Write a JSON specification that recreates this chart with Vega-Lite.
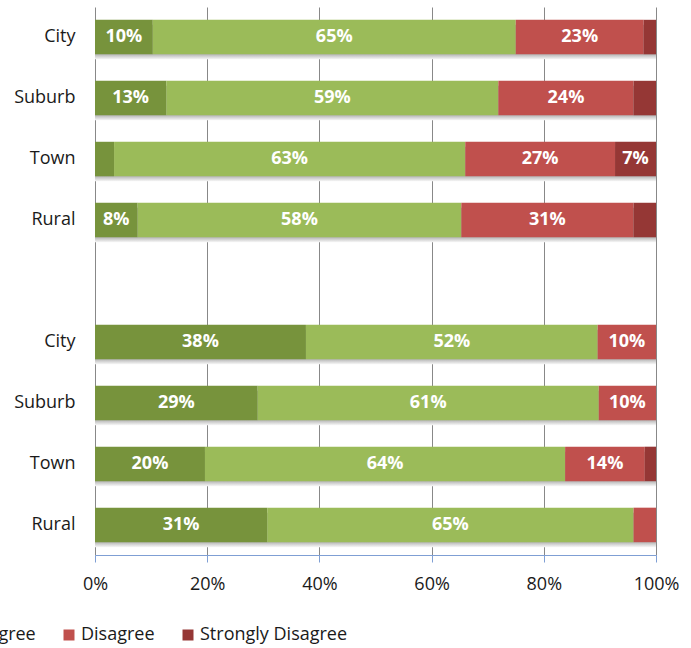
{
  "$schema": "https://vega.github.io/schema/vega-lite/v6.json",
  "width": 561,
  "height": 548,
  "autosize": {"type": "none"},
  "padding": {"left": 95, "top": 7, "right": 35, "bottom": 93},
  "background": "white",
  "config": {
    "view": {"stroke": null},
    "font": "Open Sans",
    "axis": {"labelFont": "Open Sans", "labelColor": "#1a1a1a", "titleFont": "Open Sans"},
    "legend": {"labelFont": "Open Sans"}
  },
  "data": {
    "values": [
      {"row": "a|City", "resp": "Strongly Agree", "k": 1, "p": 0.103},
      {"row": "a|City", "resp": "Agree", "k": 2, "p": 0.647},
      {"row": "a|City", "resp": "Disagree", "k": 3, "p": 0.228},
      {"row": "a|City", "resp": "Strongly Disagree", "k": 4, "p": 0.022},
      {"row": "b|Suburb", "resp": "Strongly Agree", "k": 1, "p": 0.127},
      {"row": "b|Suburb", "resp": "Agree", "k": 2, "p": 0.592},
      {"row": "b|Suburb", "resp": "Disagree", "k": 3, "p": 0.241},
      {"row": "b|Suburb", "resp": "Strongly Disagree", "k": 4, "p": 0.040},
      {"row": "c|Town", "resp": "Strongly Agree", "k": 1, "p": 0.034},
      {"row": "c|Town", "resp": "Agree", "k": 2, "p": 0.626},
      {"row": "c|Town", "resp": "Disagree", "k": 3, "p": 0.267},
      {"row": "c|Town", "resp": "Strongly Disagree", "k": 4, "p": 0.073},
      {"row": "d|Rural", "resp": "Strongly Agree", "k": 1, "p": 0.076},
      {"row": "d|Rural", "resp": "Agree", "k": 2, "p": 0.577},
      {"row": "d|Rural", "resp": "Disagree", "k": 3, "p": 0.307},
      {"row": "d|Rural", "resp": "Strongly Disagree", "k": 4, "p": 0.040},
      {"row": "f|City", "resp": "Strongly Agree", "k": 1, "p": 0.376},
      {"row": "f|City", "resp": "Agree", "k": 2, "p": 0.520},
      {"row": "f|City", "resp": "Disagree", "k": 3, "p": 0.104},
      {"row": "f|City", "resp": "Strongly Disagree", "k": 4, "p": 0.0},
      {"row": "g|Suburb", "resp": "Strongly Agree", "k": 1, "p": 0.290},
      {"row": "g|Suburb", "resp": "Agree", "k": 2, "p": 0.608},
      {"row": "g|Suburb", "resp": "Disagree", "k": 3, "p": 0.102},
      {"row": "g|Suburb", "resp": "Strongly Disagree", "k": 4, "p": 0.0},
      {"row": "h|Town", "resp": "Strongly Agree", "k": 1, "p": 0.196},
      {"row": "h|Town", "resp": "Agree", "k": 2, "p": 0.642},
      {"row": "h|Town", "resp": "Disagree", "k": 3, "p": 0.142},
      {"row": "h|Town", "resp": "Strongly Disagree", "k": 4, "p": 0.020},
      {"row": "i|Rural", "resp": "Strongly Agree", "k": 1, "p": 0.307},
      {"row": "i|Rural", "resp": "Agree", "k": 2, "p": 0.653},
      {"row": "i|Rural", "resp": "Disagree", "k": 3, "p": 0.040},
      {"row": "i|Rural", "resp": "Strongly Disagree", "k": 4, "p": 0.0}
    ]
  },
  "encoding": {
    "y": {
      "field": "row",
      "type": "nominal",
      "scale": {
        "domain": ["a|City", "b|Suburb", "c|Town", "d|Rural", "e|", "f|City", "g|Suburb", "h|Town", "i|Rural"],
        "paddingInner": 0.434,
        "paddingOuter": 0.21
      },
      "axis": {
        "title": null,
        "domain": false,
        "ticks": false,
        "labelPadding": 20,
        "labelFontSize": 18,
        "labelExpr": "substring(datum.value, 2)"
      }
    }
  },
  "layer": [
    {
      "mark": {
        "type": "bar",
        "yOffset": 5,
        "color": {
          "gradient": "linear",
          "x1": 0, "y1": 0, "x2": 0, "y2": 1,
          "stops": [
            {"offset": 0, "color": "#b8b8b8"},
            {"offset": 0.86, "color": "#b8b8b8"},
            {"offset": 1, "color": "#f8f8f8"}
          ]
        }
      },
      "encoding": {
        "x": {"aggregate": "sum", "field": "p", "type": "quantitative", "stack": null, "scale": {"domain": [0, 1]}}
      }
    },
    {
      "mark": {"type": "bar"},
      "encoding": {
        "x": {
          "field": "p",
          "type": "quantitative",
          "stack": "normalize",
          "scale": {"domain": [0, 1]},
          "axis": {
            "title": null,
            "values": [0, 0.2, 0.4, 0.6, 0.8, 1],
            "format": ".0%",
            "grid": true,
            "gridColor": "#888888",
            "gridWidth": 1,
            "domainColor": "#7f9fd4",
            "tickColor": "#7f9fd4",
            "tickSize": 7,
            "labelFontSize": 18,
            "labelPadding": 13,
            "labelFlush": false
          }
        },
        "color": {
          "field": "resp",
          "type": "nominal",
          "scale": {
            "domain": ["Strongly Agree", "Agree", "Disagree", "Strongly Disagree"],
            "range": ["#77933c", "#9bbb59", "#c0504d", "#953735"]
          },
          "legend": {
            "title": null,
            "orient": "none",
            "direction": "horizontal",
            "legendX": -297,
            "legendY": 619,
            "symbolType": "square",
            "symbolSize": 121,
            "symbolStrokeWidth": 0,
            "labelFontSize": 18,
            "labelColor": "#1a1a1a",
            "labelOffset": 3,
            "columnPadding": 24,
            "padding": 0
          }
        },
        "order": {"field": "k", "type": "quantitative"}
      }
    },
    {
      "mark": {"type": "text", "color": "white", "fontWeight": "bold", "fontSize": 18, "baseline": "middle", "align": "center"},
      "encoding": {
        "x": {"field": "p", "type": "quantitative", "stack": "normalize", "bandPosition": 0.5},
        "detail": {"field": "resp"},
        "order": {"field": "k", "type": "quantitative"},
        "text": {
          "condition": {"test": "datum.p < 0.05", "value": ""},
          "field": "p",
          "type": "quantitative",
          "format": ".0%"
        }
      }
    }
  ]
}
